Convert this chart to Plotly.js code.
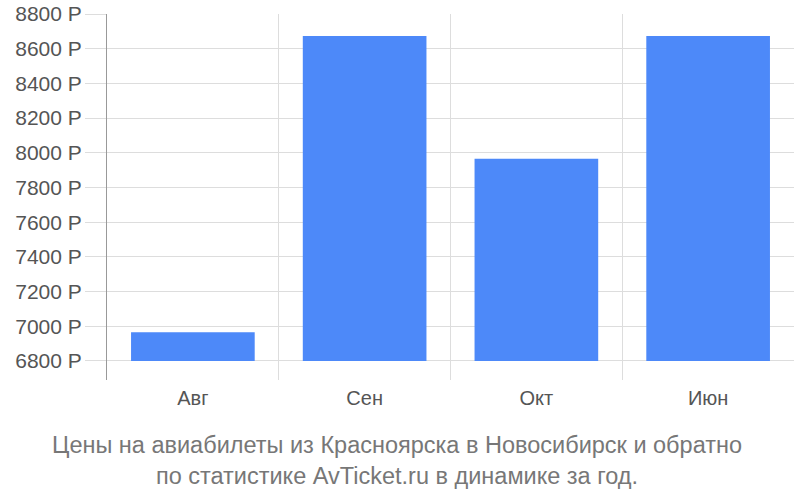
<!DOCTYPE html>
<html>
<head>
<meta charset="utf-8">
<script src="https://cdn.plot.ly/plotly-3.0.1.min.js"></script>
<style>html,body{margin:0;padding:0;background:#fff}#chart{width:800px;height:500px}</style>
</head>
<body>
<div id="chart"></div>
<script>
const categories = ["Авг", "Сен", "Окт", "Июн"];
const prices = [6966, 8673, 7966, 8673];
const baseValue = 6800;
const yTicks = [6800, 7000, 7200, 7400, 7600, 7800, 8000, 8200, 8400, 8600, 8800];
const captionLines = ["Цены на авиабилеты из Красноярска в Новосибирск и обратно", "по статистике AvTicket.ru в динамике за год."];

const trace = {
  type: "bar",
  x: categories,
  y: prices.map(v => v - baseValue),
  base: baseValue,
  width: 0.72,
  marker: {color: "#4d89f9"},
  hoverinfo: "skip"
};

const layout = {
  width: 800, height: 500,
  margin: {l: 107, r: 6, t: 14, b: 120},
  paper_bgcolor: "#fff", plot_bgcolor: "#fff",
  showlegend: false,
  font: {family: "Liberation Sans, Arial, sans-serif", color: "#555", size: 20},
  xaxis: {
    type: "category",
    tickson: "boundaries",
    showgrid: true, gridcolor: "#dddddd", gridwidth: 1,
    ticks: "", showline: false, zeroline: false,
    tickfont: {size: 20, color: "#555"},
    ticklabelstandoff: 4,
    fixedrange: true
  },
  yaxis: {
    range: [6690, 8800],
    tickvals: yTicks,
    ticktext: yTicks.map(v => v + " Р"),
    showgrid: true, gridcolor: "#dddddd", gridwidth: 1,
    ticks: "outside", ticklen: 21, tickcolor: "#dddddd",
    showline: true, linecolor: "#999999", linewidth: 1,
    zeroline: false,
    tickfont: {size: 21, color: "#555"},
    ticklabelstandoff: -1,
    fixedrange: true
  },
  annotations: [{
    xref: "paper", yref: "paper",
    x: 0.5 - 53.5/687, y: 0,
    yshift: -50,
    xanchor: "center", yanchor: "top",
    text: captionLines.join("<br>"),
    showarrow: false,
    align: "center",
    font: {family: "Liberation Sans, Arial, sans-serif", size: 23.5, color: "#777"}
  }]
};

Plotly.newPlot("chart", [trace], layout, {displayModeBar: false, staticPlot: true});
</script>
</body>
</html>
